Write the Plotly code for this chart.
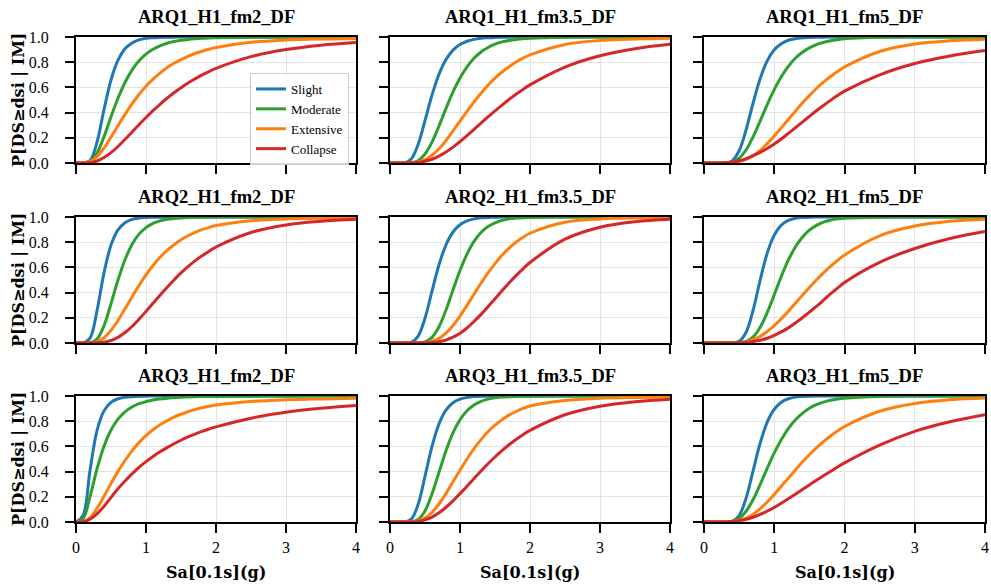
import plotly.graph_objects as go

# Sa[0.1s] (g) positions at which the curves were read
SA = [0, 0.1, 0.2, 0.3, 0.4, 0.5, 0.6, 0.7, 0.8, 0.9, 1.0, 1.1, 1.2, 1.3, 1.4, 1.5,
      1.6, 1.7, 1.8, 1.9, 2.0, 2.5, 3.0, 3.5, 4.0]

DAMAGE_STATES = ["Slight", "Moderate", "Extensive", "Collapse"]
COLORS = ["#1f77b4", "#2ca02c", "#ff7f0e", "#d62728"]

TITLES = ["ARQ1_H1_fm2_DF", "ARQ1_H1_fm3.5_DF", "ARQ1_H1_fm5_DF",
          "ARQ2_H1_fm2_DF", "ARQ2_H1_fm3.5_DF", "ARQ2_H1_fm5_DF",
          "ARQ3_H1_fm2_DF", "ARQ3_H1_fm3.5_DF", "ARQ3_H1_fm5_DF"]

X_TICKS = [0, 1, 2, 3, 4]
Y_TICKS = [0.0, 0.2, 0.4, 0.6, 0.8, 1.0]

# ---- ARQ1_H1_fm2_DF
ARQ1_FM2_SLIGHT = [0, 0, .019, .166, .423, .659, .816, .906, .953, .977, .989, .994, .997, .998, .999, 1, 1, 1, 1, 1, 1, 1, 1, 1, 1]
ARQ1_FM2_MODERATE = [0, 0, .012, .079, .209, .367, .514, .639, .737, .811, .864, .903, .930, .950, .964, .974, .981, .986, .990, .993, .994, .998, .999, 1, 1]
ARQ1_FM2_EXTENSIVE = [0, 0, .011, .051, .119, .205, .296, .386, .469, .544, .609, .665, .714, .756, .791, .821, .846, .869, .887, .903, .916, .958, .976, .984, .988]
ARQ1_FM2_COLLAPSE = [0, 0, .003, .016, .043, .082, .131, .187, .245, .304, .361, .415, .466, .514, .558, .598, .635, .668, .699, .726, .751, .844, .900, .935, .956]
# ---- ARQ1_H1_fm3.5_DF
ARQ1_FM35_SLIGHT = [0, 0, .001, .030, .145, .337, .539, .704, .821, .896, .940, .966, .981, .990, .994, .997, .998, .999, 1, 1, 1, 1, 1, 1, 1]
ARQ1_FM35_MODERATE = [0, 0, 0, .002, .018, .071, .166, .294, .433, .564, .674, .763, .831, .881, .917, .943, .961, .973, .981, .987, .991, .999, 1, 1, 1]
ARQ1_FM35_EXTENSIVE = [0, 0, 0, .001, .008, .026, .062, .113, .179, .255, .333, .410, .485, .554, .617, .673, .722, .764, .801, .832, .858, .941, .972, .984, .990]
ARQ1_FM35_COLLAPSE = [0, 0, 0, .001, .004, .014, .030, .055, .087, .126, .170, .218, .267, .316, .366, .413, .460, .504, .546, .584, .620, .761, .851, .907, .942]
# ---- ARQ1_H1_fm5_DF
ARQ1_FM5_SLIGHT = [0, 0, 0, .001, .017, .097, .266, .478, .670, .810, .898, .947, .974, .987, .994, .997, .999, .999, 1, 1, 1, 1, 1, 1, 1]
ARQ1_FM5_MODERATE = [0, 0, 0, .001, .008, .038, .105, .209, .334, .464, .582, .684, .767, .831, .879, .914, .940, .957, .970, .979, .986, .998, 1, 1, 1]
ARQ1_FM5_EXTENSIVE = [0, 0, 0, 0, .003, .011, .029, .058, .100, .154, .214, .279, .345, .411, .476, .535, .591, .641, .686, .726, .762, .885, .945, .970, .983]
ARQ1_FM5_COLLAPSE = [0, 0, 0, .002, .007, .018, .035, .058, .085, .115, .150, .190, .235, .280, .325, .370, .415, .457, .497, .535, .570, .700, .790, .850, .893]
# ---- ARQ2_H1_fm2_DF
ARQ2_FM2_SLIGHT = [0, 0, .038, .256, .557, .777, .898, .955, .981, .992, .996, .998, .999, .999, 1, 1, 1, 1, 1, 1, 1, 1, 1, 1, 1]
ARQ2_FM2_MODERATE = [0, 0, .002, .031, .137, .312, .500, .661, .782, .864, .916, .949, .969, .982, .989, .993, .996, .998, .999, .999, 1, 1, 1, 1, 1]
ARQ2_FM2_EXTENSIVE = [0, 0, .001, .010, .042, .100, .179, .271, .365, .457, .540, .615, .680, .735, .780, .819, .851, .878, .900, .917, .932, .970, .984, .990, .993]
ARQ2_FM2_COLLAPSE = [0, 0, 0, .001, .006, .020, .045, .083, .131, .189, .251, .315, .379, .441, .500, .556, .606, .652, .692, .729, .762, .877, .937, .966, .982]
# ---- ARQ2_H1_fm3.5_DF
ARQ2_FM35_SLIGHT = [0, 0, 0, .005, .053, .197, .411, .621, .779, .881, .938, .969, .985, .993, .997, .998, 1, 1, 1, 1, 1, 1, 1, 1, 1]
ARQ2_FM35_MODERATE = [0, 0, 0, 0, .001, .009, .045, .129, .262, .421, .575, .705, .806, .877, .924, .954, .973, .985, .991, .995, .997, 1, 1, 1, 1]
ARQ2_FM35_EXTENSIVE = [0, 0, 0, 0, 0, .003, .014, .037, .079, .139, .214, .299, .387, .474, .556, .630, .696, .753, .800, .839, .871, .958, .985, .993, .996]
ARQ2_FM35_COLLAPSE = [0, 0, 0, 0, 0, .001, .003, .010, .023, .046, .078, .119, .171, .227, .288, .352, .415, .476, .535, .589, .639, .824, .919, .963, .983]
# ---- ARQ2_H1_fm5_DF
ARQ2_FM5_SLIGHT = [0, 0, 0, 0, 0, .013, .085, .262, .500, .713, .856, .935, .973, .990, .996, .999, 1, 1, 1, 1, 1, 1, 1, 1, 1]
ARQ2_FM5_MODERATE = [0, 0, 0, 0, 0, .002, .012, .048, .125, .242, .383, .528, .657, .762, .840, .896, .934, .960, .975, .985, .991, .999, 1, 1, 1]
ARQ2_FM5_EXTENSIVE = [0, 0, 0, 0, 0, .003, .011, .027, .054, .091, .138, .192, .251, .315, .378, .440, .500, .556, .608, .655, .698, .851, .928, .966, .983]
ARQ2_FM5_COLLAPSE = [0, 0, 0, 0, 0, .002, .005, .012, .022, .038, .060, .088, .120, .158, .200, .245, .290, .340, .390, .435, .480, .640, .750, .830, .885]
# ---- ARQ3_H1_fm2_DF
ARQ3_FM2_SLIGHT = [0, .050, .409, .725, .882, .949, .978, .990, .995, .998, .999, 1, 1, 1, 1, 1, 1, 1, 1, 1, 1, 1, 1, 1, 1]
ARQ3_FM2_MODERATE = [0, .026, .200, .421, .602, .730, .816, .874, .913, .939, .956, .969, .977, .983, .988, .991, .993, .995, .996, .997, .997, .999, .999, 1, 1]
ARQ3_FM2_EXTENSIVE = [0, .003, .034, .108, .204, .305, .402, .488, .565, .630, .685, .732, .771, .804, .832, .855, .875, .892, .907, .919, .929, .957, .970, .977, .982]
ARQ3_FM2_COLLAPSE = [0, .002, .022, .065, .125, .195, .265, .325, .382, .434, .479, .520, .557, .590, .621, .649, .675, .698, .719, .738, .755, .824, .871, .902, .925]
# ---- ARQ3_H1_fm3.5_DF
ARQ3_FM35_SLIGHT = [0, 0, 0, .020, .136, .363, .600, .779, .887, .946, .975, .988, .995, .998, .999, 1, 1, 1, 1, 1, 1, 1, 1, 1, 1]
ARQ3_FM35_MODERATE = [0, 0, 0, .001, .019, .088, .223, .394, .565, .707, .811, .883, .929, .958, .975, .986, .992, .995, .997, .998, .999, 1, 1, 1, 1]
ARQ3_FM35_EXTENSIVE = [0, 0, 0, 0, .009, .032, .077, .143, .226, .319, .411, .500, .582, .654, .716, .768, .812, .848, .877, .901, .921, .965, .982, .989, .993]
ARQ3_FM35_COLLAPSE = [0, 0, 0, 0, .005, .017, .039, .073, .117, .168, .225, .284, .345, .405, .462, .516, .566, .613, .655, .693, .727, .851, .919, .955, .975]
# ---- ARQ3_H1_fm5_DF
ARQ3_FM5_SLIGHT = [0, 0, 0, 0, .005, .051, .191, .409, .627, .793, .895, .951, .978, .991, .996, .998, 1, 1, 1, 1, 1, 1, 1, 1, 1]
ARQ3_FM5_MODERATE = [0, 0, 0, 0, .006, .029, .087, .179, .298, .426, .548, .653, .742, .810, .862, .903, .931, .951, .966, .976, .983, .997, 1, 1, 1]
ARQ3_FM5_EXTENSIVE = [0, 0, 0, 0, .003, .012, .031, .062, .106, .159, .218, .283, .348, .413, .476, .534, .588, .638, .683, .722, .758, .879, .941, .971, .985]
ARQ3_FM5_COLLAPSE = [0, 0, 0, 0, .004, .010, .022, .038, .060, .086, .115, .149, .184, .220, .257, .294, .331, .367, .401, .436, .469, .610, .719, .795, .851]

PANELS = [
    [ARQ1_FM2_SLIGHT, ARQ1_FM2_MODERATE, ARQ1_FM2_EXTENSIVE, ARQ1_FM2_COLLAPSE],
    [ARQ1_FM35_SLIGHT, ARQ1_FM35_MODERATE, ARQ1_FM35_EXTENSIVE, ARQ1_FM35_COLLAPSE],
    [ARQ1_FM5_SLIGHT, ARQ1_FM5_MODERATE, ARQ1_FM5_EXTENSIVE, ARQ1_FM5_COLLAPSE],
    [ARQ2_FM2_SLIGHT, ARQ2_FM2_MODERATE, ARQ2_FM2_EXTENSIVE, ARQ2_FM2_COLLAPSE],
    [ARQ2_FM35_SLIGHT, ARQ2_FM35_MODERATE, ARQ2_FM35_EXTENSIVE, ARQ2_FM35_COLLAPSE],
    [ARQ2_FM5_SLIGHT, ARQ2_FM5_MODERATE, ARQ2_FM5_EXTENSIVE, ARQ2_FM5_COLLAPSE],
    [ARQ3_FM2_SLIGHT, ARQ3_FM2_MODERATE, ARQ3_FM2_EXTENSIVE, ARQ3_FM2_COLLAPSE],
    [ARQ3_FM35_SLIGHT, ARQ3_FM35_MODERATE, ARQ3_FM35_EXTENSIVE, ARQ3_FM35_COLLAPSE],
    [ARQ3_FM5_SLIGHT, ARQ3_FM5_MODERATE, ARQ3_FM5_EXTENSIVE, ARQ3_FM5_COLLAPSE],
]
for _p in PANELS:
    for _s in _p:
        assert len(_s) == len(SA), len(_s)

W, H = 991, 585
COL_PX = [(76, 356), (390, 670), (704, 985)]
ROW_PX = [(37, 163), (217, 343), (396, 522)]

SERIF = "Liberation Serif"
LABEL_FONT = "DejaVu Serif"

fig = go.Figure()
layout = dict(
    width=W, height=H,
    margin=dict(l=0, r=0, t=0, b=0, autoexpand=False),
    paper_bgcolor="white", plot_bgcolor="white",
    showlegend=True,
    annotations=[],
)

for k, curves in enumerate(PANELS):
    r, c = divmod(k, 3)
    ax = "" if k == 0 else str(k + 1)
    for s, (name, col, ys) in enumerate(zip(DAMAGE_STATES, COLORS, curves)):
        fig.add_trace(go.Scatter(
            x=SA, y=ys, mode="lines", name=name,
            line=dict(color=col, width=3, shape="spline", smoothing=1),
            xaxis="x" + ax, yaxis="y" + ax,
            showlegend=(k == 0), legendrank=s, hoverinfo="skip",
        ))
    x0, x1 = COL_PX[c]
    y0, y1 = ROW_PX[r]
    common = dict(
        showline=True, linecolor="black", linewidth=2, mirror=True,
        ticks="outside", ticklen=9, tickwidth=2, tickcolor="black",
        showgrid=True, gridcolor="#e3e3e3", gridwidth=1,
        zeroline=False, automargin=False, ticklabeloverflow="allow",
        tickfont=dict(family=SERIF, size=16, color="black"),
    )
    layout["xaxis" + ax] = dict(
        common, domain=[x0 / W, x1 / W], range=[0, 4],
        tickvals=X_TICKS, showticklabels=(r == 2),
        anchor="y" + ax, ticklabelstandoff=1,
    )
    layout["yaxis" + ax] = dict(
        common, domain=[1 - y1 / H, 1 - y0 / H], range=[0, 1],
        tickvals=Y_TICKS, tickformat=".1f", showticklabels=(c == 0),
        anchor="x" + ax, ticklabelstandoff=13,
    )
    layout["annotations"].append(dict(
        text="<b>" + TITLES[k] + "</b>", x=(x0 + x1) / 2 / W, y=1 - y0 / H,
        xref="paper", yref="paper", xanchor="center", yanchor="bottom",
        yshift=8, showarrow=False,
        font=dict(family=SERIF, size=18.5, color="black"),
    ))
    if c == 0:
        layout["annotations"].append(dict(
            text="<b>P[DS≥dsi | IM]</b>", x=18 / W, y=1 - (y0 + y1) / 2 / H,
            xref="paper", yref="paper", xanchor="center", yanchor="middle",
            textangle=-90, showarrow=False,
            font=dict(family=LABEL_FONT, size=16, color="black"),
        ))
    if r == 2:
        layout["annotations"].append(dict(
            text="<b>Sa[0.1s](g)</b>", x=(x0 + x1) / 2 / W, y=1 - 572 / H,
            xref="paper", yref="paper", xanchor="center", yanchor="middle",
            showarrow=False,
            font=dict(family=LABEL_FONT, size=16, color="black"),
        ))

layout["legend"] = dict(
    x=349 / W, xanchor="right", y=1 - 119 / H, yanchor="middle",
    bgcolor="rgba(255,255,255,0.85)", bordercolor="#cccccc", borderwidth=1,
    font=dict(family=SERIF, size=13, color="black"),
    tracegroupgap=0, itemwidth=30,
)

fig.update_layout(**layout)
# remove the browser's default 8 px body margin so the figure fills the window
fig.write_html("out.html", config={"displayModeBar": False},
               post_script="document.body.style.margin='0';")
